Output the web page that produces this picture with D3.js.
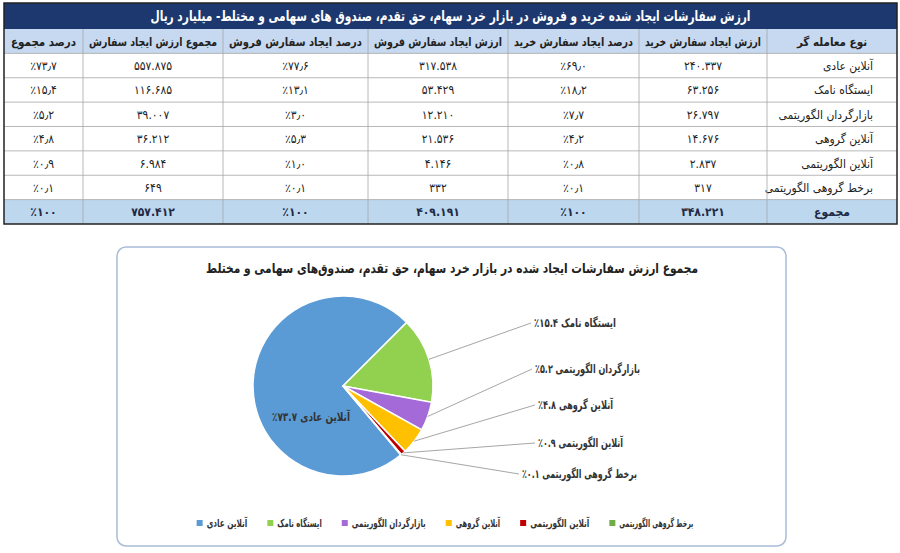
<!DOCTYPE html>
<html>
<head>
<meta charset="utf-8">
<script src="https://cdn.jsdelivr.net/npm/d3@7"></script>
<style>
  body { margin: 0; background: #fff; }
  svg { display: block; }
  text { font-family: "DejaVu Sans Condensed", "DejaVu Sans", sans-serif; }
</style>
</head>
<body>
<div id="chart"></div>
<script>
// ── Data ──
const categories = ["آنلاین عادی", "ایستگاه نامک", "بازارگردان الگوریتمی", "آنلاین گروهی", "آنلاین الگوریتمی", "برخط گروهی الگوریتمی"];
const buyValues = [240337, 63256, 26797, 14676, 2837, 317];
const buyPct = [69.0, 18.2, 7.7, 4.2, 0.8, 0.1];
const sellValues = [317538, 53429, 12210, 21536, 4146, 332];
const sellPct = [77.6, 13.1, 3.0, 5.3, 1.0, 0.1];
const totalValues = [557875, 116685, 39007, 36212, 6984, 649];
const totalPct = [73.7, 15.4, 5.2, 4.8, 0.9, 0.1];
const sumLabel = "مجموع";
const sumBuy = 348221, sumSell = 409191, sumTotal = 757412, sumPct = 100;
const headers = ["نوع معامله گر", "ارزش ایجاد سفارش خرید", "درصد ایجاد سفارش خرید", "ارزش ایجاد سفارش فروش", "درصد ایجاد سفارش فروش", "مجموع ارزش ایجاد سفارش", "درصد مجموع"];
const tableTitle = "ارزش سفارشات ایجاد شده خرید و فروش در بازار خرد سهام، حق تقدم، صندوق های سهامی و مختلط- میلیارد ریال";
const chartTitle = "مجموع ارزش سفارشات ایجاد شده در بازار خرد سهام، حق تقدم، صندوق‌های سهامی و مختلط";
const sliceColors = ["#5b9bd5", "#92d050", "#a46bd8", "#ffc000", "#c00000", "#70ad47"];

// ── Formatting (Persian digits) ──
const faDigits = "۰۱۲۳۴۵۶۷۸۹";
const ALM = "\u061C"; // arabic letter mark: keeps ٪ on the left of the number
const toFa = s => String(s).replace(/[0-9]/g, d => faDigits[+d]);
const fmtInt = v => toFa(d3.format(",")(v).replace(/,/g, "."));
const fmtPct = v => ALM + (v >= 100 ? toFa(v) : toFa(v.toFixed(1)).replace(".", "٫")) + "٪";
const fmtPiePct = v => toFa(v.toFixed(1)) + "٪";

// shrink a text to a max width if it is wider
function fit(sel, maxW) {
  const n = sel.node(), w = n.getComputedTextLength();
  if (w > maxW) sel.attr("textLength", maxW).attr("lengthAdjust", "spacingAndGlyphs");
  return sel;
}

const W = 900, H = 553;
const svg = d3.select("#chart").append("svg").attr("width", W).attr("height", H);

// ── Table ──
const tX0 = 4, tX1 = 897, tY0 = 3, titleH = 26, tY1 = 224;
// column widths right-to-left
const colW = [130, 128, 131, 140, 145, 140, 79];
const colEdge = [tX1];
colW.forEach((w, i) => colEdge.push(colEdge[i] - w));

const rows = [headers].concat(categories.map((c, i) => [
  c, fmtInt(buyValues[i]), fmtPct(buyPct[i]), fmtInt(sellValues[i]), fmtPct(sellPct[i]), fmtInt(totalValues[i]), fmtPct(totalPct[i])
])).concat([[sumLabel, fmtInt(sumBuy), fmtPct(sumPct), fmtInt(sumSell), fmtPct(sumPct), fmtInt(sumTotal), fmtPct(sumPct)]]);

const y = d3.scaleBand().domain(d3.range(rows.length)).range([tY0 + titleH, tY1]);
const tg = svg.append("g");

tg.append("rect").attr("x", tX0).attr("y", tY0).attr("width", tX1 - tX0).attr("height", titleH).attr("fill", "#1d386e");
fit(tg.append("text").attr("x", (tX0 + tX1) / 2).attr("y", tY0 + titleH / 2 + 5)
  .attr("text-anchor", "middle").attr("direction", "rtl")
  .attr("font-size", 14.5).attr("font-weight", "bold").attr("fill", "#fff").text(tableTitle), 600);

rows.forEach((r, ri) => {
  const isHead = ri === 0, isSum = ri === rows.length - 1;
  if (isHead || isSum) {
    tg.append("rect").attr("x", tX0).attr("y", y(ri)).attr("width", tX1 - tX0).attr("height", y.bandwidth())
      .attr("fill", isHead ? "#c6d9f0" : "#bdd7ee");
  }
  r.forEach((cell, ci) => {
    const xr = colEdge[ci], xl = colEdge[ci + 1];
    const nameCol = ci === 0 && !isHead && !isSum;
    const t = tg.append("text")
      .attr("x", nameCol ? xr - 24 : (xl + xr) / 2)
      .attr("y", y(ri) + y.bandwidth() / 2 + 4.5)
      .attr("direction", "rtl")
      .attr("text-anchor", nameCol ? "start" : "middle")
      .attr("font-size", isHead ? 11.5 : 12)
      .attr("font-weight", isHead || isSum ? "bold" : "normal")
      .attr("fill", isSum ? "#1f2a44" : "#222")
      .text(cell);
    fit(t, (xr - xl) - 12);
  });
});
// grid lines
rows.forEach((r, ri) => {
  if (ri === 0) return;
  tg.append("line").attr("x1", tX0).attr("x2", tX1).attr("y1", y(ri)).attr("y2", y(ri))
    .attr("stroke", "#a6a6a6").attr("stroke-width", 0.8);
});
colEdge.slice(1, -1).forEach(x => {
  tg.append("line").attr("x1", x).attr("x2", x).attr("y1", tY0 + titleH).attr("y2", tY1)
    .attr("stroke", "#a6a6a6").attr("stroke-width", 0.8);
});
tg.append("rect").attr("x", tX0).attr("y", tY0).attr("width", tX1 - tX0).attr("height", tY1 - tY0)
  .attr("fill", "none").attr("stroke", "#222").attr("stroke-width", 1.5);

// ── Pie chart ──
const box = { x: 117, y: 247, w: 669, h: 299 };
svg.append("rect").attr("x", box.x).attr("y", box.y).attr("width", box.w).attr("height", box.h)
  .attr("rx", 9).attr("fill", "#fff").attr("stroke", "#a9bcd8").attr("stroke-width", 1.5);
fit(svg.append("text").attr("x", 452).attr("y", 273).attr("text-anchor", "middle").attr("direction", "rtl")
  .attr("font-size", 13.5).attr("font-weight", "bold").attr("fill", "#222").text(chartTitle), 492);

const cx = 343, cy = 386, R = 90;
const start = 140 * Math.PI / 180;
const pie = d3.pie().sort(null).startAngle(start).endAngle(start + 2 * Math.PI);
const arcs = pie(totalPct);
const arc = d3.arc().innerRadius(0).outerRadius(R);
const pg = svg.append("g").attr("transform", `translate(${cx},${cy})`);
pg.selectAll("path").data(arcs).join("path")
  .attr("d", arc).attr("fill", (d, i) => sliceColors[i])
  .attr("stroke", "#fff").attr("stroke-width", 1.5);

// inside label for the largest slice
fit(pg.append("text").attr("x", -32).attr("y", 35).attr("text-anchor", "middle").attr("direction", "rtl")
  .attr("font-size", 12).attr("font-weight", "bold").attr("fill", "#333")
  .text(categories[0] + " " + fmtPiePct(totalPct[0])), 78);

// outside labels with leader lines (label anchor positions are layout)
const labelPos = [null, [531, 323], [532, 369], [535, 405], [535, 443], [519, 474]];
const labelW = [0, 82, 105, 75, 85, 115];
arcs.forEach((d, i) => {
  if (!labelPos[i]) return;
  const a = (d.startAngle + d.endAngle) / 2;
  const sx = cx + R * Math.sin(a), sy = cy - R * Math.cos(a);
  const [lx, ly] = labelPos[i];
  svg.append("line").attr("x1", sx).attr("y1", sy).attr("x2", lx).attr("y2", ly)
    .attr("stroke", "#a6a6a6").attr("stroke-width", 1);
  fit(svg.append("text").attr("x", lx + 3).attr("y", ly + 3.5).attr("direction", "rtl").attr("text-anchor", "end")
    .attr("font-size", 12).attr("font-weight", "bold").attr("fill", "#333")
    .text(categories[i] + " " + fmtPiePct(totalPct[i])), labelW[i]);
});

// ── Legend ──
const lg = svg.append("g");
const items = categories.map((c, i) => {
  const g = lg.append("g");
  g.append("rect").attr("x", 0).attr("y", -7).attr("width", 6).attr("height", 6).attr("fill", sliceColors[i]);
  const t = g.append("text").attr("x", 10).attr("y", 0).attr("direction", "rtl").attr("text-anchor", "end")
    .attr("font-size", 11).attr("font-weight", "bold").attr("fill", "#333").text(c);
  const maxW = c.length * 3.7;
  fit(t, maxW);
  return { g, w: 10 + Math.min(maxW, t.node().getComputedTextLength()) };
});
const gap = 20;
const totalW = d3.sum(items, d => d.w) + gap * (items.length - 1);
let lx = 445 - totalW / 2;
items.forEach(it => { it.g.attr("transform", `translate(${lx},527)`); lx += it.w + gap; });
</script>
</body>
</html>
